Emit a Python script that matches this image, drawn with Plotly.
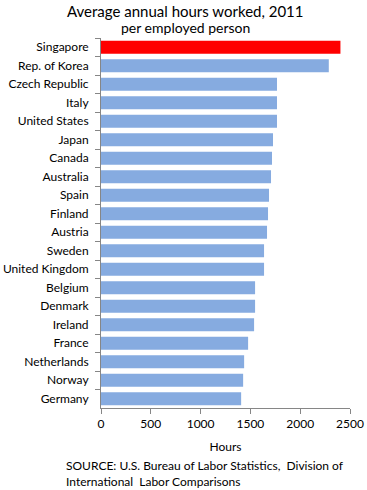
import plotly.graph_objects as go

countries = ["Singapore", "Rep. of Korea", "Czech Republic", "Italy", "United States",
             "Japan", "Canada", "Australia", "Spain", "Finland", "Austria", "Sweden",
             "United Kingdom", "Belgium", "Denmark", "Ireland", "France", "Netherlands",
             "Norway", "Germany"]
hours = [2404, 2287, 1767, 1767, 1767, 1727, 1717, 1707, 1687, 1677, 1667, 1637,
         1637, 1547, 1547, 1537, 1477, 1437, 1427, 1407]
x_ticks = [0, 500, 1000, 1500, 2000, 2500]

colors = ["#FF0000" if c == "Singapore" else "#86ABE0" for c in countries]

font = "Lato, 'Open Sans', 'Liberation Sans', sans-serif"

W, H = 367, 490
L, R, T, B = 101, 17, 38, 82
ph = H - T - B
pw = W - L - R

def py(y):
    return (H - B - y) / ph

def px(x):
    return (x - L) / pw

fig = go.Figure(go.Bar(
    x=hours, y=countries, orientation="h",
    marker=dict(color=colors, line=dict(width=0)),
    hoverinfo="x+y",
))

fig.update_layout(
    width=W, height=H,
    margin=dict(l=L, r=R, t=T, b=B, autoexpand=False),
    plot_bgcolor="white", paper_bgcolor="white",
    bargap=0.3,
    showlegend=False,
    font=dict(family=font, size=12, color="#000000"),
    xaxis=dict(
        range=[0, 2500], tickvals=x_ticks, ticktext=[str(v) for v in x_ticks],
        showgrid=False, zeroline=False, automargin=False,
        showline=True, linecolor="#868686", linewidth=1,
        ticks="outside", ticklen=5, tickcolor="#868686",
        tickfont=dict(size=12),
        title=dict(text="Hours", font=dict(size=12), standoff=12),
    ),
    yaxis=dict(
        type="category", categoryorder="array", categoryarray=countries,
        range=[len(countries) - 0.5, -0.5],
        showgrid=False, zeroline=False, automargin=False,
        showline=True, linecolor="#868686", linewidth=1,
        ticks="outside", ticklen=5, tickcolor="#868686", tickson="boundaries",
        tickfont=dict(size=12),
        ticklabelstandoff=9,
    ),
    annotations=[
        dict(text="Average annual hours worked, 2011", x=px(185), xref="paper",
             xanchor="center", y=py(11), yref="paper", yanchor="middle",
             showarrow=False, font=dict(size=15)),
        dict(text="per employed person", x=px(185), xref="paper",
             xanchor="center", y=py(27), yref="paper", yanchor="middle",
             showarrow=False, font=dict(size=14)),
        dict(text="SOURCE: U.S. Bureau of Labor Statistics,  Division of<br>International  Labor Comparisons",
             x=px(64), xref="paper", y=py(473), yref="paper",
             xanchor="left", yanchor="middle", align="left",
             showarrow=False, font=dict(size=12)),
    ],
)

fig.write_html("out.html", config={"displayModeBar": False},
               post_script="document.body.style.margin='0';document.body.style.overflow='hidden';")
